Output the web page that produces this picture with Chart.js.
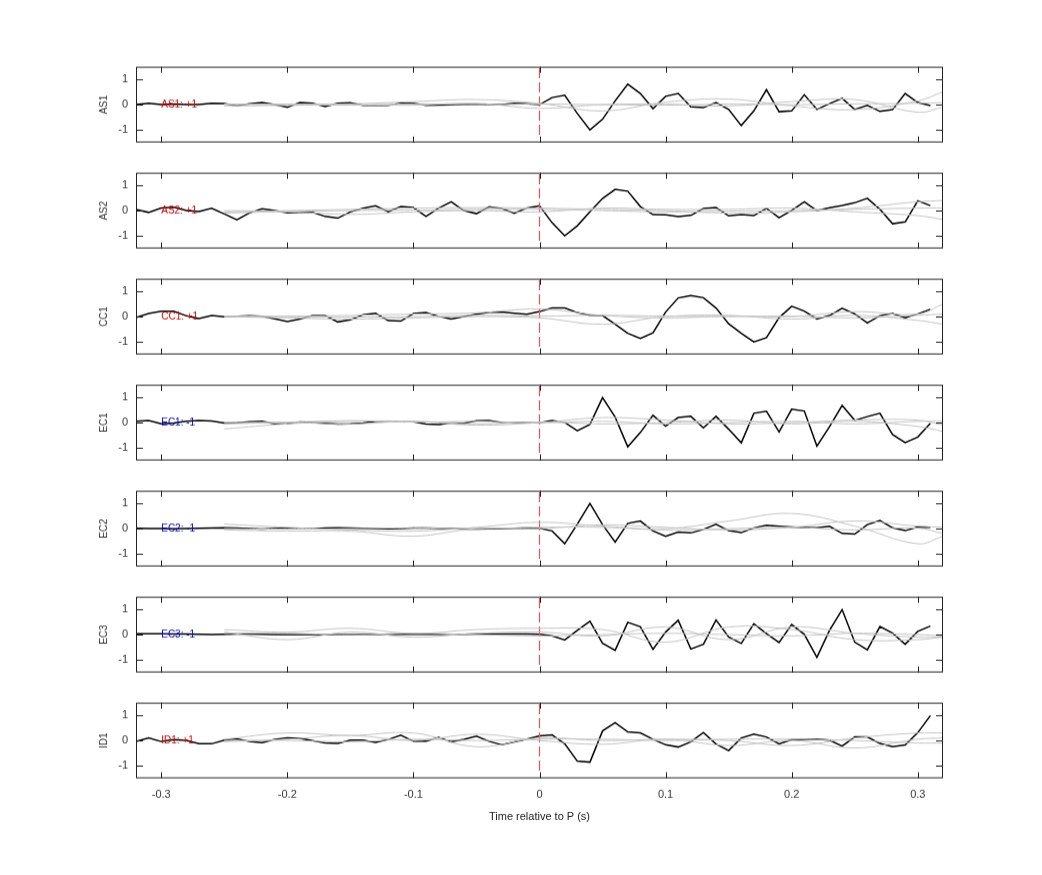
<!DOCTYPE html>
<html>
<head>
<meta charset="utf-8">
<script src="https://cdn.jsdelivr.net/npm/chart.js@4"></script>
<style>
  body { margin: 0; background: #fff; }
  #wrap { position: relative; width: 1042px; height: 875px; overflow: hidden; }
  canvas { position: absolute; left: 0; }
</style>
</head>
<body>
<div id="wrap"></div>
<script>
// station names and their polarity labels
const stations = ['AS1', 'AS2', 'CC1', 'EC1', 'EC2', 'EC3', 'ID1'];
const polarity = ['+1', '+1', '+1', '-1', '-1', '-1', '+1'];
const polColors = ['#d40000', '#d40000', '#d40000', '#0000c8', '#0000c8', '#0000c8', '#d40000'];

// time samples (s) for the black traces: -0.32 .. 0.31 step 0.01
const times = [];
for (let i = 0; i < 64; i++) times.push(Math.round((-0.32 + i * 0.01) * 100) / 100);

// times for gray smooth traces
const grayTimes = [-0.25, -0.2, -0.15, -0.1, -0.05, 0, 0.05, 0.1, 0.15, 0.2, 0.25, 0.3, 0.32];

const as1 = [0, 0.05, 0, 0.02, 0, 0, 0.05, 0.04, -0.05, 0.03, 0.08, 0, -0.1, 0.08, 0.05, -0.08,
  0.05, 0.07, -0.03, -0.03, -0.03, 0.05, 0.05, -0.03, -0.02, -0.01, 0, 0, 0, 0, 0.05, 0.03,
  0, 0.28, 0.37, -0.35, -1.0, -0.58, 0.15, 0.81, 0.44, -0.16, 0.33, 0.44, -0.09, -0.12, 0.08, -0.19,
  -0.83, -0.25, 0.59, -0.28, -0.25, 0.39, -0.19, 0.04, 0.25, -0.19, -0.03, -0.27, -0.2, 0.44, 0.08, -0.04];
const as2 = [0.04, -0.07, 0.1, 0.13, 0, -0.04, 0.09, -0.13, -0.36, -0.09, 0.07, 0, -0.09, -0.07, -0.07, -0.23,
  -0.3, -0.05, 0.09, 0.19, -0.04, 0.16, 0.12, -0.23, 0.1, 0.35, 0, -0.12, 0.15, 0.08, -0.1, 0.1,
  0.19, -0.48, -1.0, -0.6, -0.05, 0.48, 0.84, 0.77, 0.16, -0.16, -0.17, -0.24, -0.19, 0.08, 0.12, -0.21,
  -0.16, -0.2, 0.09, -0.28, 0.01, 0.35, 0, 0.11, 0.2, 0.31, 0.49, 0.05, -0.52, -0.45, 0.39, 0.2];
const cc1 = [-0.04, 0.12, 0.21, 0.21, 0.03, -0.08, 0.04, -0.01, 0.01, 0.03, 0.01, -0.09, -0.2, -0.1, 0.04, 0.04,
  -0.21, -0.13, 0.07, 0.13, -0.16, -0.18, 0.12, 0.16, 0.01, -0.1, 0, 0.09, 0.17, 0.18, 0.13, 0.09,
  0.2, 0.34, 0.34, 0.16, 0.05, 0.04, -0.3, -0.66, -0.86, -0.64, 0.18, 0.74, 0.83, 0.75, 0.34, -0.28,
  -0.66, -1.0, -0.83, -0.04, 0.41, 0.22, -0.09, 0.04, 0.33, 0.11, -0.25, 0.04, 0.12, -0.04, 0.11, 0.29];
const ec1 = [0.05, 0.08, -0.05, -0.02, 0.05, 0.08, 0.06, -0.02, -0.01, 0.03, 0.05, -0.05, -0.04, 0.02, 0, -0.03,
  -0.06, -0.05, -0.02, 0.05, 0.05, 0.04, 0.03, -0.06, -0.08, -0.02, -0.03, 0.07, 0.08, 0, 0, 0.01,
  -0.01, 0.08, 0.01, -0.32, -0.07, 0.99, 0.22, -0.96, -0.39, 0.29, -0.14, 0.2, 0.25, -0.21, 0.25, -0.26,
  -0.8, 0.37, 0.45, -0.37, 0.53, 0.46, -0.93, -0.16, 0.68, 0.09, 0.24, 0.37, -0.47, -0.79, -0.57, -0.03];
const ec2 = [0.01, 0, 0, -0.01, 0, 0.01, 0.02, 0.03, 0.02, 0, -0.02, 0, 0.01, 0, -0.01, 0.02,
  0.03, 0.02, 0.01, 0, -0.01, 0, 0.02, 0.02, 0.01, 0, -0.02, -0.02, -0.01, 0, 0.01, 0.02,
  0.01, -0.09, -0.6, 0.18, 1.0, 0.16, -0.53, 0.21, 0.3, -0.09, -0.3, -0.14, -0.17, -0.03, 0.17, -0.08,
  -0.16, 0.03, 0.13, 0.09, 0.06, 0.04, 0.03, 0.09, -0.19, -0.22, 0.16, 0.32, 0.03, -0.08, 0.06, 0.05];
const ec3 = [0.03, 0.03, 0.03, 0.02, 0.02, 0.01, 0, 0.01, 0.02, 0.02, 0.01, 0, 0, 0, 0, 0,
  0, 0, 0.01, 0.01, 0.01, 0.01, 0.01, 0.01, 0.01, 0.01, 0.01, 0.02, 0.02, 0.02, 0.02, 0.02,
  0.01, -0.05, -0.21, 0.17, 0.53, -0.34, -0.62, 0.49, 0.31, -0.58, 0.1, 0.57, -0.57, -0.38, 0.58, -0.09,
  -0.35, 0.43, 0.04, -0.31, 0.4, 0.01, -0.9, 0.17, 0.99, -0.3, -0.6, 0.32, 0.06, -0.38, 0.13, 0.34];
const id1 = [-0.04, 0.1, -0.04, 0.03, 0, -0.13, -0.13, 0.01, 0.06, -0.04, -0.09, 0.04, 0.1, 0.08, -0.01, -0.1,
  -0.12, 0.01, 0.01, -0.08, 0.04, 0.21, -0.03, -0.03, 0.12, -0.05, 0.04, 0.17, -0.03, -0.17, -0.06, 0.05,
  0.18, 0.22, -0.13, -0.82, -0.86, 0.38, 0.71, 0.34, 0.3, 0.05, -0.17, -0.26, -0.05, 0.32, -0.14, -0.4,
  0.1, 0.25, 0.14, -0.13, 0.03, 0.03, 0.05, 0.01, -0.22, 0.14, 0.14, -0.12, -0.25, -0.18, 0.31, 0.99];
const blackSeries = [as1, as2, cc1, ec1, ec2, ec3, id1];

// gray model traces, three per station
const grayAS1 = [
  [0, 0.02, 0.03, 0.12, 0.2, 0.05, -0.25, 0.1, 0.22, -0.05, -0.2, 0.15, 0.5],
  [-0.05, -0.03, 0, -0.02, 0.05, -0.15, 0, 0.02, -0.05, 0.12, 0.2, -0.3, -0.1],
  [0.02, 0, -0.02, 0.03, 0, 0.02, 0, -0.02, 0.02, 0, 0.03, 0.05, 0.08]];
const grayAS2 = [
  [-0.05, 0, 0.05, 0.1, 0.12, 0.1, 0.05, 0, -0.1, -0.05, 0.1, 0.35, 0.4],
  [-0.1, -0.05, -0.15, -0.05, 0, -0.05, 0.1, 0.05, 0.05, 0.1, -0.05, -0.2, -0.35],
  [0, -0.02, 0, 0.02, 0.05, 0.05, 0, -0.05, -0.02, 0, 0.05, 0.1, 0.1]];
const grayCC1 = [
  [0, 0.02, 0.05, 0.1, 0.15, 0.3, 0.05, -0.05, 0.02, 0, 0.2, 0.1, 0.5],
  [0, -0.05, -0.1, -0.05, 0, -0.05, -0.3, 0, 0.05, -0.1, 0.05, -0.15, -0.3],
  [0.02, 0, -0.02, 0, 0.05, 0.02, 0.05, 0.02, 0, 0.02, -0.05, 0.05, 0.1]];
const grayEC1 = [
  [-0.25, -0.05, 0.05, 0.05, -0.1, 0, 0.2, 0.1, -0.05, 0, 0.1, 0.1, -0.1],
  [-0.05, 0, -0.05, 0.05, -0.05, 0.02, -0.05, 0, 0.1, -0.05, 0.05, -0.15, -0.35],
  [0, 0.02, 0.08, 0.02, 0.05, 0, 0.05, -0.05, 0, 0.05, -0.05, 0.05, 0.05]];
const grayEC2 = [
  [0.18, 0.05, -0.05, -0.1, 0.05, 0.25, 0.1, 0, 0.3, 0.6, 0.1, -0.6, -0.3],
  [-0.05, -0.1, -0.1, -0.3, 0, 0, 0.15, 0.05, -0.05, 0.05, 0.3, 0.1, 0.05],
  [0, -0.02, 0, 0.03, 0, 0.05, 0.05, -0.05, 0, 0.05, -0.05, 0.02, -0.2]];
const grayEC3 = [
  [0.2, 0.1, 0.25, 0.05, 0.2, 0.25, 0.2, -0.3, 0.3, 0.2, -0.2, -0.2, -0.1],
  [0.1, -0.2, 0.1, -0.1, 0.05, 0.1, -0.05, 0.3, -0.2, 0.3, 0.05, -0.1, -0.1],
  [0.05, 0.05, 0, 0.05, 0, -0.05, 0, 0.05, 0, -0.05, 0.05, 0, -0.05]];
const grayID1 = [
  [0.05, 0.3, 0.2, 0.3, -0.25, 0.1, 0, 0.05, 0, -0.2, 0.1, 0.3, 0.3],
  [-0.05, 0.05, 0.2, 0, 0.25, 0, -0.15, 0.05, -0.2, 0, -0.3, 0.05, 0.1],
  [0, 0, -0.05, 0.05, 0, 0.05, 0.05, 0, 0.05, 0.05, 0, -0.1, -0.1]];
const graySeries = [grayAS1, grayAS2, grayCC1, grayEC1, grayEC2, grayEC3, grayID1];

const xTicks = [-0.3, -0.2, -0.1, 0, 0.1, 0.2, 0.3];
const yTicks = [-1, 0, 1];
const xLabel = 'Time relative to P (s)';

const panelTops = [67, 173, 279, 385, 491, 597, 703];
const panelH = 75;
const FONT = '"Liberation Sans", Arial, sans-serif';

// box + inward ticks + station name + polarity text
const framePlugin = {
  id: 'frame',
  afterDatasetsDraw(chart, args, opts) {
    const c = chart.ctx, a = chart.chartArea;
    const xs = chart.scales.x, ys = chart.scales.y;
    c.save();
    c.strokeStyle = '#222';
    c.lineWidth = 1;
    c.strokeRect(a.left + 0.5, a.top + 0.5, a.right - a.left - 1, a.bottom - a.top - 1);
    c.beginPath();
    xTicks.forEach(v => {
      const p = Math.round(xs.getPixelForValue(v)) + 0.5;
      c.moveTo(p, a.top); c.lineTo(p, a.top + 6);
      c.moveTo(p, a.bottom); c.lineTo(p, a.bottom - 6);
    });
    yTicks.forEach(v => {
      const p = Math.round(ys.getPixelForValue(v)) + 0.5;
      c.moveTo(a.left, p); c.lineTo(a.left + 7, p);
      c.moveTo(a.right, p); c.lineTo(a.right - 7, p);
    });
    c.stroke();
    c.fillStyle = opts.color;
    c.font = '10px ' + FONT;
    c.textBaseline = 'middle';
    c.fillText(opts.text, xs.getPixelForValue(-0.3), ys.getPixelForValue(0));
    // station name, rotated
    c.fillStyle = '#333';
    c.translate(104, ys.getPixelForValue(0));
    c.rotate(-Math.PI / 2);
    c.textAlign = 'center';
    c.fillText(opts.name, 0, 0);
    c.restore();
  }
};

const wrap = document.getElementById('wrap');
stations.forEach((name, i) => {
  const last = i === stations.length - 1;
  const bottomSpace = last ? 49 : 10;
  const cv = document.createElement('canvas');
  cv.style.top = (panelTops[i] - 10) + 'px';
  cv.style.width = '1042px';
  cv.style.height = (20 + panelH + bottomSpace) + 'px';
  wrap.appendChild(cv);

  const datasets = graySeries[i].map(g => ({
    data: grayTimes.map((t, k) => ({ x: t, y: g[k] })),
    borderColor: '#c4c4c4', borderWidth: 1, pointRadius: 0, tension: 0.4
  }));
  datasets.push({
    data: [{ x: 0, y: -1.2 }, { x: 0, y: 1.5 }],
    borderColor: '#e05555', borderWidth: 1.2, borderDash: [10, 4], pointRadius: 0
  });
  datasets.push({
    data: times.map((t, k) => ({ x: t, y: blackSeries[i][k] })),
    borderColor: '#000', borderWidth: 1.5, pointRadius: 0, tension: 0
  });

  const chart = new Chart(cv, {
    type: 'line',
    data: { datasets: datasets },
    options: {
      responsive: false,
      maintainAspectRatio: false,
      animation: false,
      devicePixelRatio: 1,
      layout: { padding: { top: 10, right: 99, left: 0, bottom: 0 } },
      plugins: {
        legend: { display: false },
        tooltip: { enabled: false },
        frame: { text: name + ': ' + polarity[i], color: polColors[i], name: name }
      },
      scales: {
        x: {
          type: 'linear', min: -0.32, max: 0.32,
          grid: { display: false, drawTicks: false },
          border: { display: false },
          afterBuildTicks: s => { s.ticks = xTicks.map(v => ({ value: v })); },
          afterFit: s => { s.height = bottomSpace; },
          ticks: {
            display: last, padding: 10, color: '#333',
            font: { size: 11, family: FONT },
            callback: v => String(Number(v.toFixed(2)))
          },
          title: {
            display: last, text: xLabel, color: '#222', padding: { top: 0 },
            font: { size: 11, family: FONT }
          }
        },
        y: {
          min: -1.5, max: 1.5,
          grid: { display: false, drawTicks: false },
          border: { display: false },
          afterBuildTicks: s => { s.ticks = yTicks.map(v => ({ value: v })); },
          afterFit: s => { s.width = 136; },
          ticks: {
            padding: 8, color: '#333',
            font: { size: 11, family: FONT }
          }
        }
      }
    },
    plugins: [framePlugin]
  });
  // fit the plot box to the reference panel position
  const a = chart.chartArea;
  const h = cv.clientHeight + (panelH - (a.bottom - a.top));
  chart.resize(1042, h);
  cv.style.top = (panelTops[i] - chart.chartArea.top) + 'px';
});
</script>
</body>
</html>
